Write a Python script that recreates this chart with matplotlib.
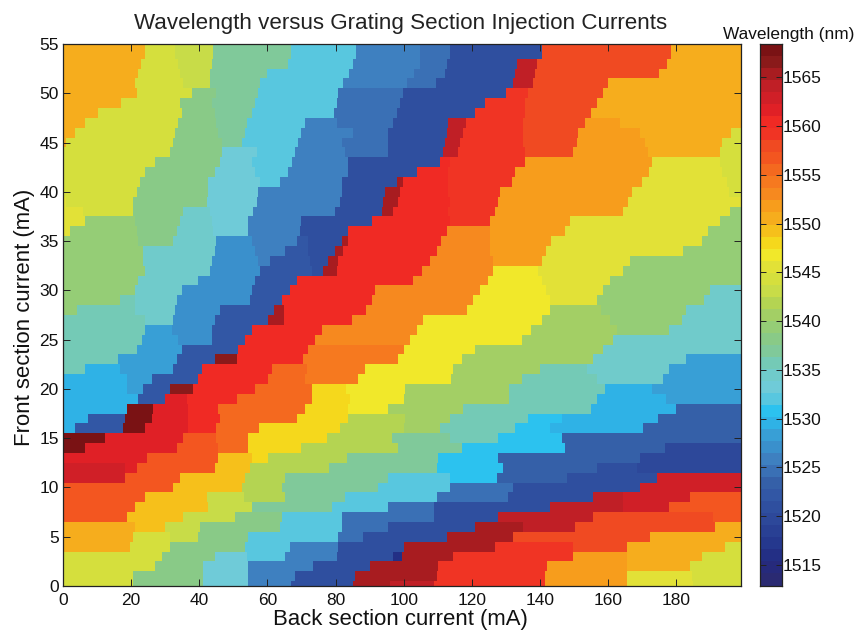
import numpy as np
import matplotlib
matplotlib.use("Agg")
import matplotlib.pyplot as plt
from matplotlib.colors import ListedColormap, BoundaryNorm

plt.rcParams['font.family'] = ['Liberation Sans', 'DejaVu Sans']

title = "Wavelength versus Grating Section Injection Currents"
xlabel = "Back section current (mA)"
ylabel = "Front section current (mA)"
cbar_label = "Wavelength (nm)"
x_ticks = list(range(0, 181, 20))
y_ticks = list(range(0, 56, 5))
cbar_ticks = list(range(1515, 1566, 5))
wl_min, wl_max = 1512.9, 1568.4
x_max = 199
n_levels = 45

level_hex = ['#2a2a72', '#262a7c', '#232f85', '#25388e', '#294094', '#2d489a', '#2f4f9f', '#3257a5', '#3560a8',
             '#3a70b5', '#3e80c0', '#3a90cc', '#389fd6', '#2fb2e6', '#2cc2ef', '#58c7df', '#6fcbd8', '#70cbcb',
             '#74cab6', '#80c99a', '#89ca87', '#95cd76', '#a3cf65', '#b4d452', '#c8dc48', '#d5df3d', '#e2e137',
             '#f1e82a', '#f5d81c', '#f6c01b', '#f6ad1d', '#f79d1c', '#f6891f', '#f6791f', '#f4691f', '#f35620',
             '#f04a22', '#f03424', '#f02a24', '#e02026', '#d01f27', '#c01f26', '#a81c20', '#8a1a1a', '#7a1214']

front_rows = list(range(54, -1, -1))

back_breaks = [
 [24,33,44,67,86,104.8,113.6,140.5,178.6],
 [23,33.8,43.6,66,85,104.8,112.6,133.2,139,177.2],
 [22,34.3,43,60,84,103,112,132.7,138.5,175],
 [21,35.3,43,57.8,82.3,100.9,109.6,132.2,138,160],
 [21.7,38,45,57.3,80.8,99.9,130,136.6,158.6],
 [17,34.3,43.6,56.4,80.3,99,123.9,135.6,156.6],
 [10.4,35,44.6,55.4,79.4,98,120.9,135.6,155],
 [6.5,33.8,45,54,71,80.3,97,113.1,118.2,135,153.2,163.5],
 [3.5,32.9,45.6,53.4,70,85,95.5,112.6,117.5,135,151.2,169.4,196],
 [1,32.4,46.6,52.4,69,81.8,95.5,112.1,116.5,135,150.8,170.8,193.3],
 [31.4,46.6,57,68,82.8,95.5,111.6,116,135.6,149.8,171.8,192.8],
 [27,46,55.4,67.1,83.7,110.6,113.6,135.6,172.8,192.8],
 [24,44.6,56.4,66,83.7,104,113,132.6,172,193.3],
 [22.6,42.7,57.8,63.7,81.8,98,99.8,113,131.7,169.8,194.8],
 [21.6,42.7,57.3,81.8,94.5,99,113,128.3,167,195.5],
 [1,20.6,42.2,56.8,81.3,94,98.4,113.6,127.8,165.9],
 [6,20.6,35.3,43,55.9,79.8,93.5,97,113,126.8,164.5,195.8],
 [6.5,21.1,34.3,43.6,54.4,70,90.6,113.6,125.3,148.8,192.8],
 [2,21.6,33.4,44,54.4,69.6,83.7,112.6,125.3,147.3,189.4],
 [22,32.4,45,55.4,68.6,72,81.8,83.7,111,125.3,143.2,187.5],
 [23.6,44.6,56.4,65.2,72,79.8,82.3,109.7,125.3,141.9,182],
 [23.6,43.6,57.3,60.8,72.5,77.9,80.8,107.7,126.3,140.5,166.5],
 [24.2,43.1,57.8,73,76.4,80.3,105.3,126.3,139.5,164.5],
 [22,39.7,56.4,68.6,102.8,124.8,140.5,160.5],
 [21.1,34.8,55.4,66.6,91.6,122.4,141.9,158.6,190],
 [16.7,21,33.4,55,64.2,90.6,120.4,142.9,156.6,188],
 [4,21.1,33,46,62,65,89,118.5,143,158,183],
 [24,32.4,44.6,60.3,65,84.7,105.7,140.5,160.5,181.6],
 [24,31.9,43.6,55.4,76,104,137.5,162.5,178],
 [23.1,33.8,43.6,53.4,74,101.8,134.6,161.5],
 [21.6,34.8,51.5,72,100,120.9,158.6],
 [16.2,33.4,44.6,51,70.5,98.4,117,155.7,183],
 [6.4,16.7,32.4,40.7,61.3,71.5,88.7,114.6,140,153.7,178],
 [18.7,26,39.7,60.3,71,86.7,114,134.6,156.6,176.2],
 [18.7,23.6,31.4,38.2,56.4,73,83.2,100.4,131,159,173],
 [22.1,30,36.3,51,73,84.2,100,131,156.6,177],
 [18.7,26.5,36.8,45.6,71,83.7,95.5,117.5,155,180],
 [7.4,18.2,26,36.8,46,68.6,83.7,100.4,113.6,136.6,146.5,174.7],
 [3.5,17.7,24,36.8,45,57.4,81.3,100,110.7,132.7,143,170.3],
 [12.3,35.3,45,54.4,77.4,96.5,113.6,127.8,146.4],
 [6.5,33.4,45.6,54.4,70,98.4,117,147.3,176.7],
 [24.6,45.6,55.4,60.3,83.3,110,127.8,169.4],
 [18.2,21.6,44.6,54.9,78,109.7,129.2,156.6,168.4],
 [18.2,34.3,53.4,65.2,95.5,113.6,127.3,147.8,174.2],
 [32.4,52.5,64.2,92.6,113.6,132,169.4],
 [24,42.2,53,65.2,82.8,109.7,130.7,155.6,164.5,184],
 [21,42.7,55.4,78.9,95.5,109,143,164.4,178],
 [18.7,35.3,50.5,64.2,81.8,109,127.8,155.7,190.9],
 [21,30,40.2,63.7,81.8,95.5,121,135,150.3,191.4],
 [20.6,31.4,39.7,54.4,80.8,88,112.6,132,172.3],
 [19.7,31.4,53.4,66.6,80.8,100,126.8,149.8,165.4,194.3],
 [29,44.6,54,65.2,80.3,97,99.5,114.6,149.8,165.4,187.5],
 [27,41.2,54.4,73.5,90.1,110,142,165.4,184],
 [20.6,41.2,54.4,68.1,85.7,109.7,141.5,165.4,184.5],
 [20.6,41.2,54.4,67,85.2,96,109,141.5,165.4,185],
]

wavelengths = [
 [1550.5,1544.3,1543.1,1537.0,1532.0,1525.9,1524.6,1520.9,1557.9,1550.5],
 [1550.5,1544.3,1543.1,1537.0,1532.0,1525.9,1524.6,1520.9,1564.1,1557.9,1550.5],
 [1550.5,1544.3,1543.1,1537.0,1532.0,1525.9,1524.6,1520.9,1564.1,1557.9,1550.5],
 [1550.5,1544.3,1543.1,1537.0,1532.0,1525.9,1524.6,1520.9,1564.1,1557.9,1550.5],
 [1550.5,1544.3,1538.2,1537.0,1532.0,1524.6,1520.9,1559.1,1557.9,1550.5],
 [1550.5,1544.3,1538.2,1537.0,1532.0,1524.6,1520.9,1559.1,1557.9,1550.5],
 [1550.5,1544.3,1538.2,1537.0,1532.0,1524.6,1520.9,1559.1,1557.9,1550.5],
 [1550.5,1544.3,1538.2,1537.0,1532.0,1525.9,1524.6,1520.9,1564.1,1559.1,1557.9,1551.7,1550.5],
 [1550.5,1544.3,1538.2,1537.0,1532.0,1525.9,1524.6,1520.9,1564.1,1559.1,1557.9,1551.7,1550.5,1544.3],
 [1550.5,1544.3,1538.2,1537.0,1532.0,1525.9,1524.6,1520.9,1564.1,1559.1,1557.9,1551.7,1550.5,1544.3],
 [1544.3,1538.2,1533.2,1532.0,1525.9,1524.6,1520.9,1564.1,1559.1,1557.9,1551.7,1550.5,1544.3],
 [1544.3,1538.2,1533.2,1532.0,1525.9,1520.9,1560.4,1559.1,1551.7,1545.6,1544.3],
 [1544.3,1538.2,1533.2,1532.0,1525.9,1520.9,1560.4,1559.1,1551.7,1545.6,1544.3],
 [1544.3,1538.2,1533.2,1532.0,1525.9,1520.9,1565.3,1560.4,1559.1,1551.7,1545.6,1544.3],
 [1544.3,1538.2,1533.2,1525.9,1520.9,1565.3,1560.4,1559.1,1551.7,1545.6,1544.3],
 [1545.6,1544.3,1538.2,1533.2,1525.9,1520.9,1565.3,1560.4,1559.1,1551.7,1545.6],
 [1545.6,1544.3,1538.2,1534.5,1533.2,1525.9,1520.9,1565.3,1560.4,1559.1,1551.7,1545.6,1539.4],
 [1545.6,1539.4,1538.2,1534.5,1533.2,1525.9,1520.9,1560.4,1559.1,1551.7,1545.6,1539.4],
 [1545.6,1539.4,1538.2,1534.5,1533.2,1525.9,1520.9,1560.4,1553.0,1551.7,1545.6,1539.4],
 [1539.4,1538.2,1534.5,1527.1,1525.9,1522.2,1520.9,1565.3,1560.4,1553.0,1551.7,1545.6,1539.4],
 [1539.4,1534.5,1527.1,1525.9,1522.2,1520.9,1565.3,1560.4,1553.0,1551.7,1545.6,1539.4],
 [1539.4,1534.5,1527.1,1525.9,1522.2,1520.9,1565.3,1560.4,1553.0,1551.7,1545.6,1539.4],
 [1539.4,1534.5,1527.1,1522.2,1520.9,1565.3,1560.4,1553.0,1546.8,1545.6,1539.4],
 [1539.4,1534.5,1527.1,1522.2,1560.4,1553.0,1546.8,1545.6,1539.4],
 [1539.4,1534.5,1527.1,1522.2,1560.4,1553.0,1546.8,1545.6,1539.4,1534.5],
 [1539.4,1535.7,1534.5,1527.1,1522.2,1560.4,1553.0,1546.8,1545.6,1539.4,1534.5],
 [1539.4,1535.7,1534.5,1527.1,1522.2,1565.3,1560.4,1553.0,1546.8,1540.6,1539.4,1534.5],
 [1535.7,1534.5,1527.1,1522.2,1565.3,1560.4,1553.0,1546.8,1540.6,1539.4,1534.5],
 [1535.7,1528.3,1527.1,1522.2,1560.4,1553.0,1546.8,1540.6,1539.4,1534.5],
 [1535.7,1528.3,1527.1,1522.2,1560.4,1553.0,1546.8,1540.6,1534.5],
 [1535.7,1528.3,1522.2,1560.4,1554.2,1546.8,1540.6,1534.5],
 [1535.7,1528.3,1522.2,1566.5,1560.4,1554.2,1546.8,1540.6,1534.5,1528.3],
 [1535.7,1529.6,1528.3,1522.2,1560.4,1555.4,1554.2,1546.8,1540.6,1535.7,1534.5,1528.3],
 [1529.6,1528.3,1522.2,1560.4,1555.4,1554.2,1546.8,1540.6,1535.7,1534.5,1528.3],
 [1529.6,1528.3,1522.2,1566.5,1560.4,1555.4,1548.0,1546.8,1540.6,1535.7,1529.6,1528.3],
 [1529.6,1522.2,1561.6,1560.4,1555.4,1548.0,1546.8,1540.6,1535.7,1529.6,1528.3],
 [1529.6,1567.8,1561.6,1560.4,1555.4,1548.0,1546.8,1540.6,1535.7,1529.6,1523.4],
 [1529.6,1522.2,1567.8,1561.6,1560.4,1555.4,1548.0,1541.9,1540.6,1535.7,1530.8,1529.6,1523.4],
 [1529.6,1522.2,1567.8,1561.6,1560.4,1555.4,1548.0,1541.9,1540.6,1535.7,1530.8,1529.6,1523.4],
 [1567.8,1561.6,1556.7,1555.4,1548.0,1541.9,1537.0,1535.7,1530.8,1523.4],
 [1567.8,1561.6,1556.7,1555.4,1548.0,1541.9,1537.0,1530.8,1523.4,1519.7],
 [1561.6,1556.7,1549.3,1548.0,1541.9,1537.0,1530.8,1523.4,1519.7],
 [1562.8,1561.6,1556.7,1549.3,1541.9,1537.0,1530.8,1523.4,1520.9,1519.7],
 [1562.8,1556.7,1549.3,1541.9,1537.0,1532.0,1530.8,1523.4,1520.9,1562.8],
 [1556.7,1549.3,1541.9,1537.0,1532.0,1524.6,1520.9,1562.8],
 [1556.7,1549.3,1543.1,1541.9,1537.0,1532.0,1524.6,1520.9,1564.1,1562.8,1556.7],
 [1556.7,1549.3,1543.1,1537.0,1532.0,1524.6,1520.9,1564.1,1562.8,1556.7],
 [1556.7,1549.3,1543.1,1538.2,1532.0,1524.6,1520.9,1564.1,1557.9,1556.7],
 [1550.5,1549.3,1543.1,1538.2,1532.0,1524.6,1520.9,1565.3,1564.1,1557.9,1550.5],
 [1550.5,1544.3,1543.1,1538.2,1532.0,1524.6,1520.9,1565.3,1557.9,1550.5],
 [1550.5,1544.3,1538.2,1532.0,1525.9,1520.9,1565.3,1559.1,1557.9,1550.5,1544.3],
 [1544.3,1538.2,1533.2,1532.0,1525.9,1520.9,1516.0,1565.3,1559.1,1551.7,1550.5,1544.3],
 [1544.3,1538.2,1533.2,1525.9,1520.9,1565.3,1559.1,1551.7,1550.5,1544.3],
 [1544.3,1538.2,1533.2,1525.9,1520.9,1565.3,1559.1,1551.7,1545.6,1544.3],
 [1544.3,1538.2,1533.2,1525.9,1520.9,1565.3,1564.1,1559.1,1551.7,1545.6,1544.3],
]

cmap = ListedColormap(level_hex)
level_edges = np.linspace(wl_min, wl_max, n_levels + 1)
norm = BoundaryNorm(level_edges, n_levels)

W, H = 858, 632
fig = plt.figure(figsize=(W / 100, H / 100), dpi=100)
ax = fig.add_axes([63 / W, 1 - 586 / H, 678 / W, 542 / H])

for y, br, wl in zip(front_rows, back_breaks, wavelengths):
    x_edges = [0] + br + [x_max]
    y_edges = [max(y - 0.5, 0), 55 if y == front_rows[0] else y + 0.5]
    ax.pcolormesh(x_edges, y_edges, np.array([wl], dtype=float), cmap=cmap, norm=norm,
                  antialiased=False, linewidth=0, rasterized=True)

ax.set_xlim(0, x_max)
ax.set_ylim(0, 55)
ax.set_xticks(x_ticks)
ax.set_yticks(y_ticks)
ax.tick_params(direction='in', length=5, width=0.7, labelsize=12.5, color='#222222', labelcolor='#111111')
ax.tick_params(axis='x', pad=5, top=True)
ax.tick_params(axis='y', pad=3, right=True)
for s in ax.spines.values():
    s.set_linewidth(0.9)
    s.set_color('#222222')
fig.text(401 / W, 1 - 23 / H, title, ha='center', va='center', fontsize=16.1, color='#222222')
fig.text(400.5 / W, 1 - 620 / H, xlabel, ha='center', va='center', fontsize=15.9, color='#111111')
fig.text(25 / W, 1 - 317 / H, ylabel, ha='center', va='center', rotation=90, fontsize=15.9, color='#111111')

cax = fig.add_axes([760 / W, 1 - 585.5 / H, 22 / W, 541.5 / H])
cax.pcolormesh([0, 1], level_edges, ((level_edges[:-1] + level_edges[1:]) / 2)[:, None], cmap=cmap, norm=norm,
               antialiased=False)
cax.set_xticks([])
cax.set_yticks(cbar_ticks)
cax.yaxis.tick_right()
cax.tick_params(direction='in', length=4, width=0.7, labelsize=12.5, pad=0.5, left=True, right=True,
                color='#222222', labelcolor='#111111')
for s in cax.spines.values():
    s.set_linewidth(0.9)
    s.set_color('#222222')
fig.text(789 / W, 1 - 35 / H, cbar_label, ha='center', va='center', fontsize=12.4, color='#111111')

fig.savefig("out.png", dpi=100)
